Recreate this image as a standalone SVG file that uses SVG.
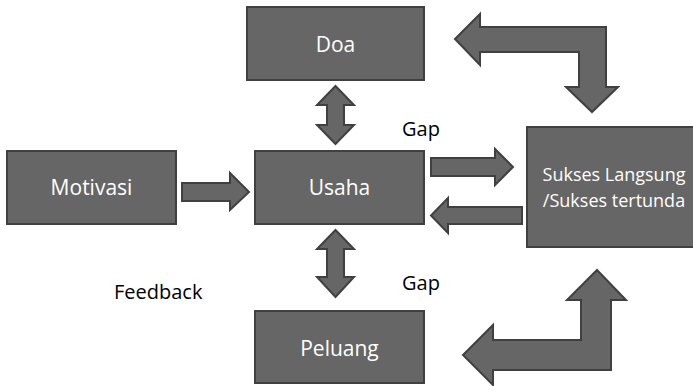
<svg xmlns="http://www.w3.org/2000/svg" width="693" height="386" viewBox="0 0 693 386">
<style>
.box{fill:#666666;stroke:#404040;stroke-width:2}
.arr{fill:#666666;stroke:#404040;stroke-width:2;stroke-linejoin:miter}
.bt{font-family:"Open Sans","Liberation Sans",sans-serif;font-size:21px;fill:#ffffff;text-anchor:middle}
.st{font-family:"Open Sans","Liberation Sans",sans-serif;font-size:18px;fill:#ffffff;text-anchor:middle}
.lb{font-family:"Open Sans","Liberation Sans",sans-serif;font-size:20px;fill:#000000}
</style>
<rect width="693" height="386" fill="#ffffff"/>
<g id="doa"><rect class="box" x="247" y="7" width="177" height="73"/><text class="bt" x="335.5" y="52">Doa</text></g>
<g id="motivasi"><rect class="box" x="7" y="151" width="169" height="73"/><text class="bt" x="91.5" y="195">Motivasi</text></g>
<g id="usaha"><rect class="box" x="255" y="151" width="169" height="73"/><text class="bt" x="339.5" y="195">Usaha</text></g>
<g id="peluang"><rect class="box" x="255" y="311" width="169" height="72"/><text class="bt" x="339.5" y="356">Peluang</text></g>
<g id="sukses"><rect class="box" x="527" y="127" width="175" height="120"/><text class="st" x="614" y="181">Sukses Langsung</text><text class="st" x="614" y="207">/Sukses tertunda</text></g>
<g id="connectors">
<polygon class="arr" points="182,183 230,183 230,173 249,192 230,210 230,201 182,201"/>
<polygon class="arr" points="431,158 495,158 495,149 513,167 495,185 495,176 431,176"/>
<polygon class="arr" points="522,207 448,207 448,198 431,215.5 448,233 448,224 522,224"/>
<polygon class="arr" points="335.5,86 354,105 344,105 344,125 354,125 335.5,144 317,125 327,125 327,105 317,105"/>
<polygon class="arr" points="335.5,230 354,249 344,249 344,277 354,277 335.5,297 317,277 327,277 327,249 317,249"/>
<polygon class="arr" points="455,39 480,14 480,27 606,27 606,87 618,87 592,112 566,87 579,87 579,52 480,52 480,65"/>
<polygon class="arr" points="597,270 626,300 611,300 611,370 493,370 493,385 463,355 493,325 493,340 581,340 581,300 567,300"/>
</g>
<text class="lb" x="402" y="136">Gap</text>
<text class="lb" x="402" y="290">Gap</text>
<text class="lb" x="114" y="299">Feedback</text>
</svg>
